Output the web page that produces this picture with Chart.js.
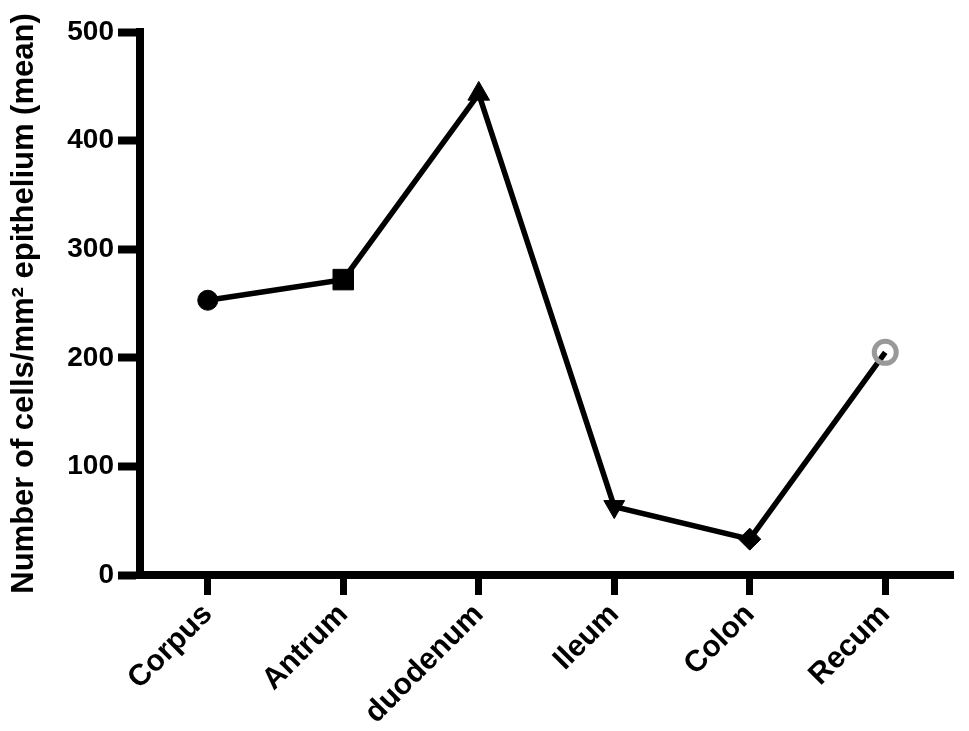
<!DOCTYPE html>
<html>
<head>
<meta charset="utf-8">
<script src="https://cdn.jsdelivr.net/npm/chart.js@4/dist/chart.umd.min.js"></script>
<style>
html,body{margin:0;padding:0;background:#fff;}
#wrap{width:969px;height:731px;}
</style>
</head>
<body>
<div id="wrap"><canvas id="c" width="969" height="731"></canvas></div>
<script>
const categories = ["Corpus", "Antrum", "duodenum", "Ileum", "Colon", "Recum"];
const meanCells = [253, 272, 443, 63, 33, 205];
const yTicks = [0, 100, 200, 300, 400, 500];
const yTitle = "Number of cells/mm\u00B2 epithelium (mean)";

const FONT = "'Liberation Sans', Arial, Helvetica, sans-serif";

new Chart(document.getElementById('c'), {
  type: 'line',
  data: {
    labels: categories,
    datasets: [{
      data: meanCells,
      borderColor: '#000',
      borderWidth: 5.5,
      tension: 0,
      pointStyle: ['circle', 'rect', 'triangle', 'triangle', 'rectRot', 'circle'],
      pointRotation: [0, 0, 0, 180, 0, 0],
      pointRadius: [10, 14.5, 12.5, 12, 11, 11],
      pointBackgroundColor: ['#000', '#000', '#000', '#000', '#000', 'rgba(0,0,0,0)'],
      pointBorderColor: ['#000', '#000', '#000', '#000', '#000', '#999'],
      pointBorderWidth: [1, 1, 1, 1, 1, 5]
    }]
  },
  options: {
    responsive: false,
    animation: false,
    layout: { padding: { top: 32, right: 13, left: 0, bottom: 0 } },
    plugins: { legend: { display: false }, tooltip: { enabled: false } },
    scales: {
      x: {
        type: 'category',
        offset: true,
        afterFit: s => { s.height = 156; },
        grid: { display: true, offset: false, drawOnChartArea: false, drawTicks: true, tickLength: 20, tickWidth: 7, tickColor: '#000' },
        border: { display: true, width: 8, color: '#000' },
        ticks: {
          color: '#000',
          font: { family: FONT, size: 30, weight: 'bold' },
          minRotation: 45, maxRotation: 45, padding: 2, autoSkip: false
        }
      },
      y: {
        min: 0, max: 500,
        afterFit: s => { s.width = 140; },
        afterBuildTicks: s => { s.ticks = yTicks.map(v => ({ value: v })); },
        grid: { display: true, drawOnChartArea: false, drawTicks: true, tickLength: 22, tickWidth: 8, tickColor: '#000' },
        border: { display: true, width: 8, color: '#000' },
        ticks: {
          color: '#000',
          font: { family: FONT, size: 28, weight: 'bold' },
          padding: 4
        },
        title: {
          display: true,
          text: yTitle,
          color: '#000',
          font: { family: FONT, size: 31, weight: 'bold' },
          padding: { top: 6, bottom: 0 }
        }
      }
    }
  }
});
</script>
</body>
</html>
